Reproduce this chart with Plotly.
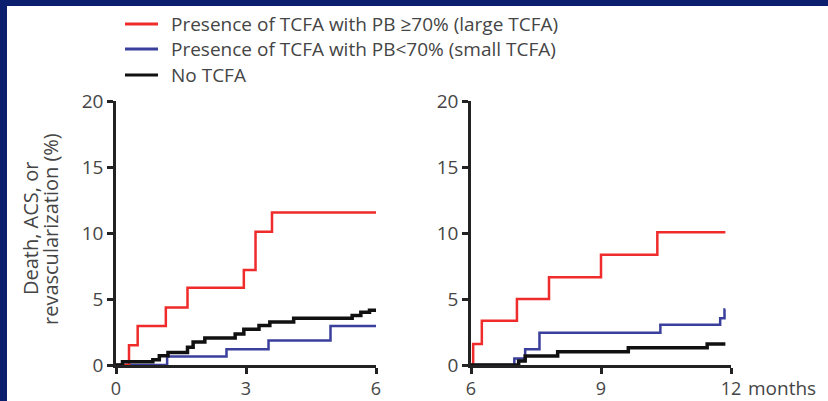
import plotly.graph_objects as go

W, H = 828, 401

# ---- data (months, cumulative event %) ----
series_names = [
    "Presence of TCFA with PB \u226570% (large TCFA)",
    "Presence of TCFA with PB<70% (small TCFA)",
    "No TCFA",
]
series_colors = ["#ef2b2b", "#3a3f9c", "#111111"]
series_widths = [2.5, 2.5, 3.5]

left_red_t = [0, 0.3, 0.5, 1.15, 1.65, 2.95, 3.22, 3.6, 6.0]
left_red_y = [0, 1.5, 2.95, 4.35, 5.85, 7.2, 10.1, 11.55, 11.55]
left_blue_t = [0, 1.18, 2.55, 3.52, 4.95, 6.0]
left_blue_y = [0, 0.65, 1.2, 1.85, 2.95, 2.95]
left_black_t = [0, 0.15, 0.85, 1.0, 1.2, 1.65, 1.78, 2.05, 2.75, 2.95, 3.3, 3.55, 4.1, 5.45, 5.65, 5.85, 6.0]
left_black_y = [0, 0.25, 0.4, 0.7, 0.95, 1.35, 1.75, 2.05, 2.35, 2.7, 3.0, 3.25, 3.55, 3.75, 4.0, 4.15, 4.15]

right_red_t = [6.0, 6.05, 6.25, 7.06, 7.8, 9.0, 10.3, 11.87]
right_red_y = [0, 1.6, 3.35, 5.0, 6.65, 8.35, 10.05, 10.05]
right_blue_t = [6.0, 7.0, 7.25, 7.58, 10.37, 11.75, 11.85, 11.87]
right_blue_y = [0, 0.5, 1.2, 2.45, 3.05, 3.55, 4.2, 4.2]
right_black_t = [6.0, 7.1, 7.25, 8.0, 9.63, 11.45, 11.87]
right_black_y = [0, 0.3, 0.68, 1.0, 1.3, 1.6, 1.6]

y_ticks = [0, 5, 10, 15, 20]
left_x_ticks = [0, 3, 6]
right_x_ticks = [6, 9, 12]
right_x_ticktext = ["6", "9", "12"]
y_title_lines = ["Death, ACS, or", "revascularization (%)"]
x_unit = "months"

# ---- layout helpers (pixel -> paper) ----
def px(x):
    return x / W

def py(y):
    return 1 - y / H

FONT = "Open Sans"
TXT = "#454545"

fig = go.Figure()

left = [(left_red_t, left_red_y), (left_blue_t, left_blue_y), (left_black_t, left_black_y)]
right = [(right_red_t, right_red_y), (right_blue_t, right_blue_y), (right_black_t, right_black_y)]

order = [1, 0, 2]
for i in order:
    t, y = left[i]
    fig.add_trace(go.Scatter(x=t, y=y, mode="lines", line_shape="hv",
                             line=dict(color=series_colors[i], width=series_widths[i]),
                             name=series_names[i], showlegend=False,
                             xaxis="x", yaxis="y"))
for i in order:
    t, y = right[i]
    fig.add_trace(go.Scatter(x=t, y=y, mode="lines", line_shape="hv",
                             line=dict(color=series_colors[i], width=series_widths[i]),
                             name=series_names[i], showlegend=False,
                             xaxis="x2", yaxis="y2"))

axis_common = dict(showgrid=False, zeroline=False, showline=True, linecolor="#222222",
                   linewidth=2.5, ticks="outside", ticklen=6, tickwidth=2.5,
                   tickcolor="#222222",
                   automargin=False, fixedrange=True)
yfont = dict(family=FONT, size=19, color=TXT)
xfont = dict(family=FONT, size=18, color=TXT)

ydom = [py(365), py(101)]
fig.update_layout(
    width=W, height=H,
    margin=dict(l=0, r=0, t=0, b=0, pad=0),
    paper_bgcolor="white", plot_bgcolor="rgba(0,0,0,0)",
    showlegend=False,
    xaxis=dict(domain=[px(116), px(376)], range=[0, 6], tickvals=left_x_ticks,
               anchor="y", tickfont=xfont, **axis_common),
    yaxis=dict(domain=ydom, range=[0, 20], tickvals=y_ticks, anchor="x",
               tickfont=yfont, **axis_common),
    xaxis2=dict(domain=[px(471), px(731)], range=[6, 12], tickvals=right_x_ticks,
                ticktext=right_x_ticktext, anchor="y2", tickfont=xfont, **axis_common),
    yaxis2=dict(domain=ydom, range=[0, 20], tickvals=y_ticks, anchor="x2",
                tickfont=yfont, **axis_common),
)

shapes = [
    dict(type="rect", xref="paper", yref="paper", x0=0, x1=px(7), y0=0, y1=1,
         fillcolor="#0c1f6e", line_width=0, layer="above"),
    dict(type="rect", xref="paper", yref="paper", x0=0, x1=1, y0=py(6), y1=1,
         fillcolor="#0c1f6e", line_width=0, layer="above"),
]
annotations = []
legend_rows = [24, 49, 75]
for i, name in enumerate(series_names):
    yy = legend_rows[i]
    shapes.append(dict(type="line", xref="paper", yref="paper",
                       x0=px(125), x1=px(158), y0=py(yy), y1=py(yy),
                       line=dict(color=series_colors[i], width=3)))
    annotations.append(dict(text=name, xref="paper", yref="paper", x=px(169), y=py(yy),
                            xanchor="left", yanchor="middle", showarrow=False,
                            font=dict(family=FONT, size=19, color=TXT)))

for xpos, line in zip([31, 51], y_title_lines):
    annotations.append(dict(text=line, xref="paper", yref="paper", x=px(xpos), y=py(229),
                            xanchor="center", yanchor="middle", textangle=-90, showarrow=False,
                            font=dict(family=FONT, size=20, color=TXT)))
annotations.append(dict(text=x_unit, xref="paper", yref="paper", x=px(746), y=py(388),
                        xanchor="left", yanchor="middle", showarrow=False,
                        font=dict(family=FONT, size=19, color=TXT)))

fig.update_layout(shapes=shapes, annotations=annotations)
fig.write_html("out.html")
